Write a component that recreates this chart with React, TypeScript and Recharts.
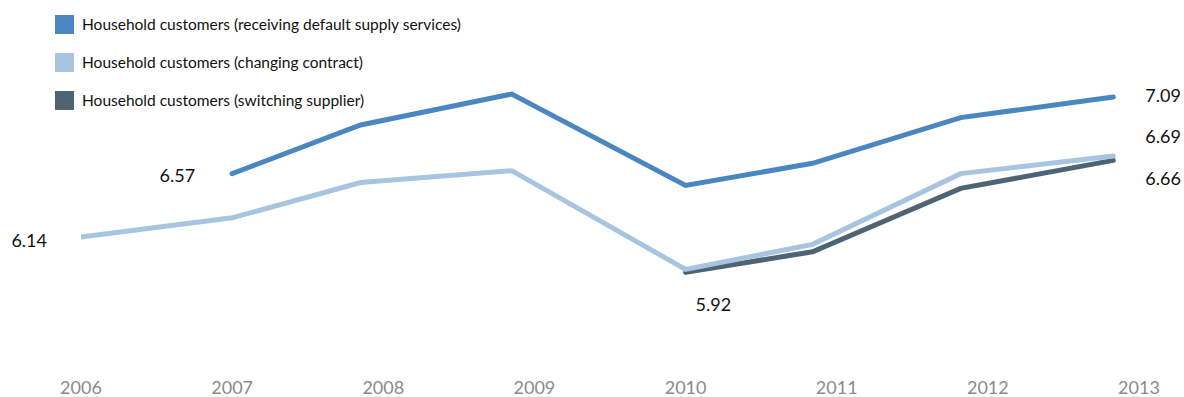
import React from "react";
import { LineChart, Line, XAxis, YAxis, Legend, LabelList } from "recharts";

// Survey points sit at fractional positions between the year ticks
const periods = [2006.0, 2007.0, 2007.85, 2008.85, 2010.0, 2010.84, 2011.82, 2012.83];
const yearTicks = [2006, 2007, 2008, 2009, 2010, 2011, 2012, 2013];

const defaultSupply = [null, 6.57, 6.9, 7.11, 6.49, 6.64, 6.95, 7.09];
const changingContract = [6.14, 6.27, 6.51, 6.59, 5.92, 6.09, 6.57, 6.69];
const switchingSupplier = [null, null, null, null, 5.9, 6.04, 6.47, 6.66];

const seriesNames = {
  defaultSupply: "Household customers (receiving default supply services)",
  changingContract: "Household customers (changing contract)",
  switchingSupplier: "Household customers (switching supplier)",
};
const legendOrder = ["defaultSupply", "changingContract", "switchingSupplier"];

const COLORS = {
  defaultSupply: "#4a87c0",
  changingContract: "#a7c5e1",
  switchingSupplier: "#4e6474",
};

const FONT = "Lato, 'Noto Sans', sans-serif";

const data = periods.map((p, i) => ({
  period: p,
  defaultSupply: defaultSupply[i],
  changingContract: changingContract[i],
  switchingSupplier: switchingSupplier[i],
}));

// value label drawn only at one point of a series
function pointLabel(index: number, dx: number, dy: number, anchor: "start" | "end") {
  return (props: any) => {
    if (props.index !== index || props.value == null) return null;
    return (
      <text
        x={props.x + dx}
        y={props.y + dy}
        textAnchor={anchor}
        fontSize={18}
        fontFamily={FONT}
        fill="#111"
      >
        {Number(props.value).toFixed(2)}
      </text>
    );
  };
}

function LegendBox({ payload }: any) {
  const items = [...(payload || [])].sort(
    (a: any, b: any) => legendOrder.indexOf(a.dataKey) - legendOrder.indexOf(b.dataKey)
  );
  return (
    <div>
      {items.map((p: any) => (
        <div
          key={p.dataKey}
          style={{ display: "flex", alignItems: "center", height: 38, fontFamily: FONT, fontSize: 15.5, color: "#111" }}
        >
          <span style={{ width: 19, height: 19, background: p.color, marginRight: 8, display: "inline-block" }} />
          {p.value}
        </div>
      ))}
    </div>
  );
}

export default function App() {
  return (
    <div>
      <style>{`body{margin:0}`}</style>
      <LineChart
        width={1184}
        height={397}
        data={data}
        margin={{ top: 36.6, right: 45, left: 81, bottom: 0 }}
      >
        <XAxis
          dataKey="period"
          type="number"
          domain={[2006, 2013]}
          ticks={yearTicks}
          allowDataOverflow
          axisLine={false}
          tickLine={false}
          tickSize={0}
          tickMargin={50}
          height={65.7}
          tick={{ fontSize: 18, fill: "#8a8a8a", fontFamily: FONT }}
          tickFormatter={(v) => String(v)}
        />
        <YAxis hide domain={[5.5, 7.5]} />
        <Legend
          layout="vertical"
          align="center"
          verticalAlign="middle"
          wrapperStyle={{ left: 55, top: 5, width: "auto" }}
          content={<LegendBox />}
        />
        <Line
          dataKey="switchingSupplier"
          name={seriesNames.switchingSupplier}
          stroke={COLORS.switchingSupplier}
          strokeWidth={5}
          strokeLinecap="round"
          dot={false}
          isAnimationActive={false}
        >
          <LabelList dataKey="switchingSupplier" content={pointLabel(7, 32, 25, "start")} />
        </Line>
        <Line
          dataKey="changingContract"
          name={seriesNames.changingContract}
          stroke={COLORS.changingContract}
          strokeWidth={5}
          strokeLinecap="round"
          dot={false}
          isAnimationActive={false}
        >
          <LabelList dataKey="changingContract" content={pointLabel(0, -34, 10, "end")} />
          <LabelList dataKey="changingContract" content={pointLabel(4, 10, 42, "start")} />
          <LabelList dataKey="changingContract" content={pointLabel(7, 32, -13, "start")} />
        </Line>
        <Line
          dataKey="defaultSupply"
          name={seriesNames.defaultSupply}
          stroke={COLORS.defaultSupply}
          strokeWidth={5}
          strokeLinecap="round"
          dot={false}
          isAnimationActive={false}
        >
          <LabelList dataKey="defaultSupply" content={pointLabel(1, -37, 8.5, "end")} />
          <LabelList dataKey="defaultSupply" content={pointLabel(7, 32, 5, "start")} />
        </Line>
      </LineChart>
    </div>
  );
}
